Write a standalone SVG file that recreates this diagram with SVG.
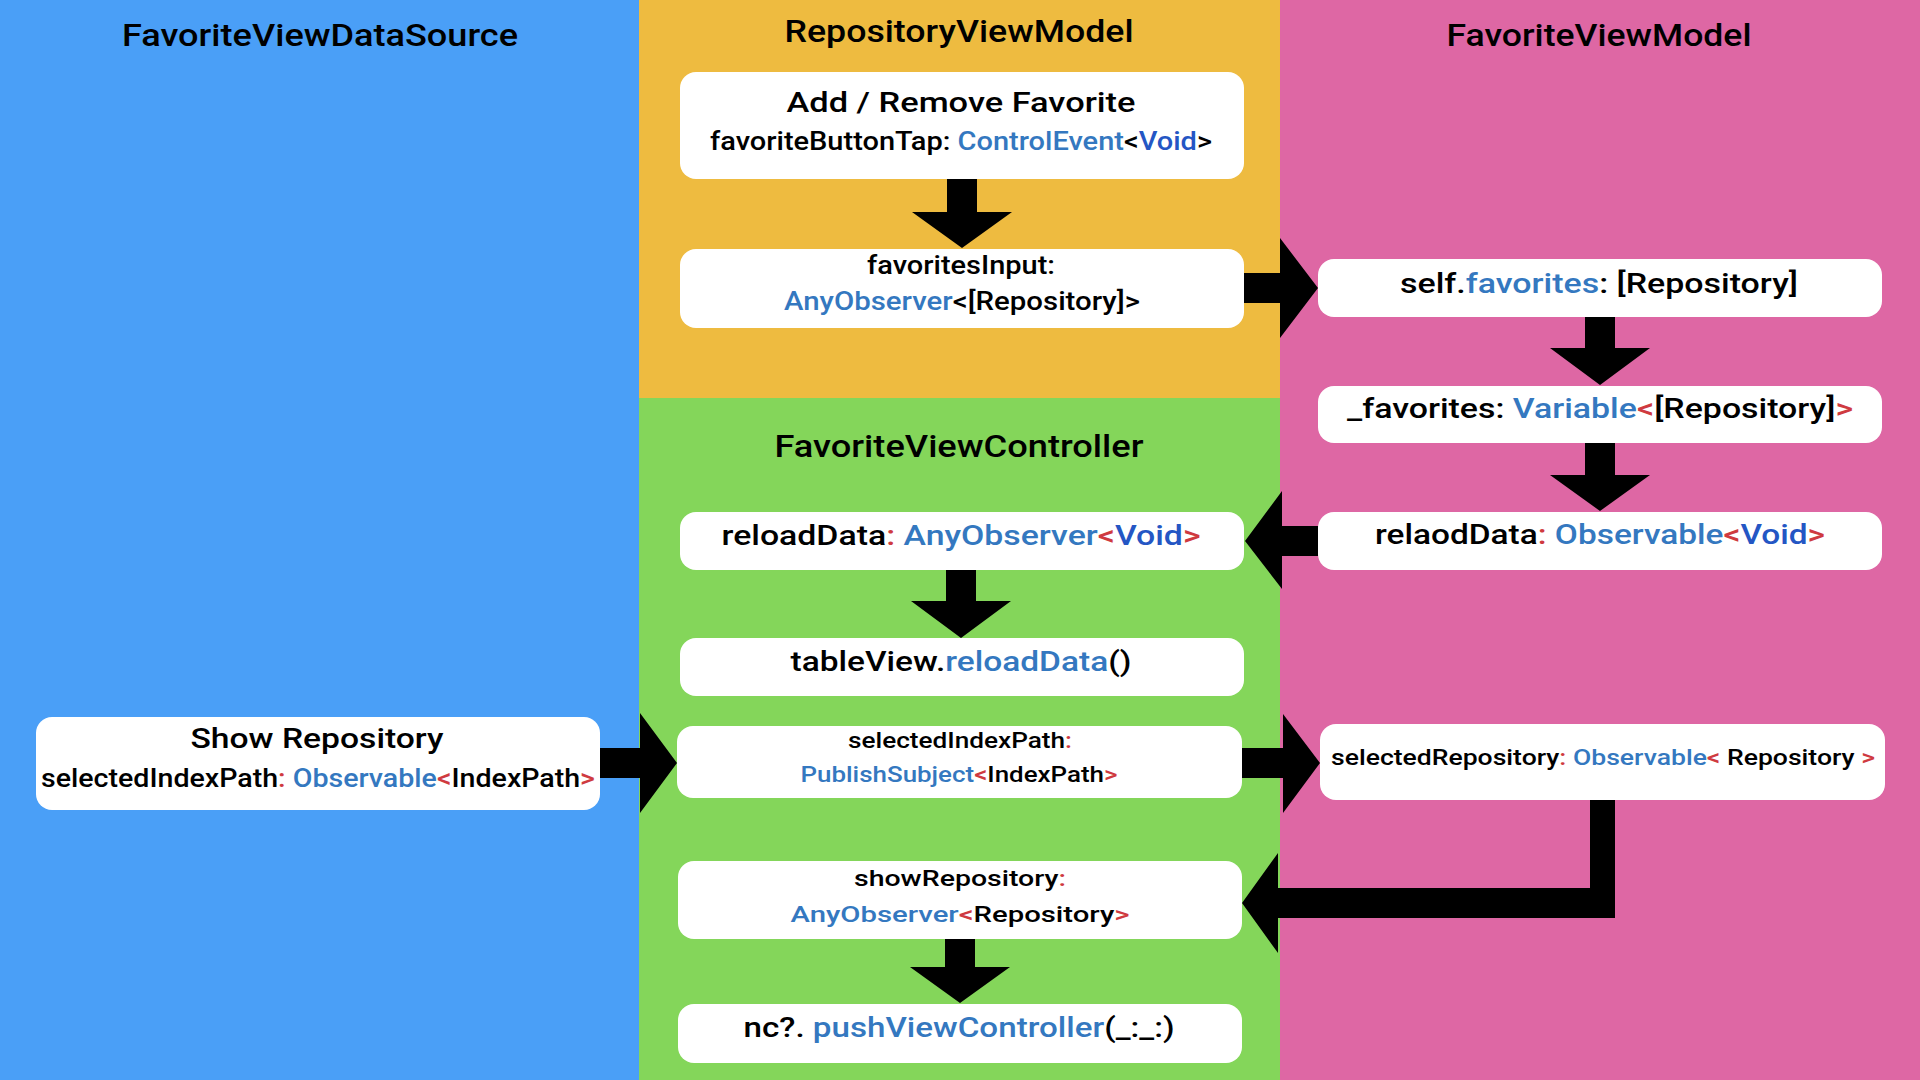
<svg xmlns="http://www.w3.org/2000/svg" width="1920" height="1080" viewBox="0 0 1920 1080">
  <style>
    text { font-family: Roboto, "Noto Sans", "Liberation Sans", sans-serif; font-weight: 500; fill: #000; text-anchor: middle; }
    .title { font-size: 31px; }
    .big { font-size: 28px; }
    .mid { font-size: 25px; }
    .small { font-size: 22px; }
    .box { fill: #fff; }
    .arrow { fill: #000; }
    .t { fill: #3478c0; }
    .v { fill: #2456c4; }
    .r { fill: #cf3a40; }
  </style>

  <!-- swimlane backgrounds -->
  <g id="lanes">
    <rect x="0" y="0" width="639" height="1080" fill="#4a9ff7"/>
    <rect x="639" y="0" width="641" height="398" fill="#eebb40"/>
    <rect x="639" y="398" width="641" height="682" fill="#84d65a"/>
    <rect x="1280" y="0" width="640" height="1080" fill="#de67a4"/>
  </g>

  <!-- lane titles -->
  <g id="lane-titles">
    <text class="title" x="320" y="46" textLength="396" lengthAdjust="spacingAndGlyphs">FavoriteViewDataSource</text>
    <text class="title" x="959" y="42" textLength="349" lengthAdjust="spacingAndGlyphs">RepositoryViewModel</text>
    <text class="title" x="1599" y="46" textLength="305" lengthAdjust="spacingAndGlyphs">FavoriteViewModel</text>
    <text class="title" x="959" y="457" textLength="369" lengthAdjust="spacingAndGlyphs">FavoriteViewController</text>
  </g>

  <!-- connectors -->
  <g id="connectors">
    <!-- favoriteButtonTap -> favoritesInput -->
    <polygon class="arrow" points="947,179 977,179 977,212 1012,212 962,248 912,212 947,212"/>
    <!-- favoritesInput -> self.favorites -->
    <polygon class="arrow" points="1244,273 1280,273 1280,238 1318,288 1280,338 1280,303 1244,303"/>
    <!-- self.favorites -> _favorites -->
    <polygon class="arrow" points="1585,317 1615,317 1615,348 1650,348 1600,385 1550,348 1585,348"/>
    <!-- _favorites -> relaodData -->
    <polygon class="arrow" points="1585,443 1615,443 1615,475 1650,475 1600,511 1550,475 1585,475"/>
    <!-- relaodData -> reloadData -->
    <polygon class="arrow" points="1318,526 1282,526 1282,491 1245,541 1282,589 1282,556 1318,556"/>
    <!-- reloadData -> tableView.reloadData() -->
    <polygon class="arrow" points="946,570 976,570 976,601 1011,601 961,638 911,601 946,601"/>
    <!-- Show Repository -> selectedIndexPath -->
    <polygon class="arrow" points="600,748 640,748 640,713 677,763 640,813 640,778 600,778"/>
    <!-- selectedIndexPath -> selectedRepository -->
    <polygon class="arrow" points="1242,748 1283,748 1283,714 1320,763 1283,813 1283,778 1242,778"/>
    <!-- selectedRepository -> showRepository -->
    <polygon class="arrow" points="1590,800 1615,800 1615,918 1278,918 1278,953 1242,903 1278,853 1278,888 1590,888"/>
    <!-- showRepository -> pushViewController -->
    <polygon class="arrow" points="945,939 975,939 975,967 1010,967 960,1003 910,967 945,967"/>
  </g>

  <!-- RepositoryViewModel -->
  <g id="node-favorite-button">
    <rect class="box" x="680" y="72" width="564" height="107" rx="16"/>
    <text class="big" x="961" y="112" textLength="349" lengthAdjust="spacingAndGlyphs">Add / Remove Favorite</text>
    <text class="mid" x="961" y="150" textLength="502" lengthAdjust="spacingAndGlyphs">favoriteButtonTap: <tspan class="t">ControlEvent</tspan>&lt;<tspan class="v">Void</tspan>&gt;</text>
  </g>
  <g id="node-favorites-input">
    <rect class="box" x="680" y="249" width="564" height="79" rx="16"/>
    <text class="mid" x="961" y="274" textLength="188" lengthAdjust="spacingAndGlyphs">favoritesInput:</text>
    <text class="mid" x="962" y="310" textLength="356" lengthAdjust="spacingAndGlyphs"><tspan class="t">AnyObserver</tspan>&lt;[Repository]&gt;</text>
  </g>

  <!-- FavoriteViewModel -->
  <g id="node-self-favorites">
    <rect class="box" x="1318" y="259" width="564" height="58" rx="16"/>
    <text class="big" x="1599" y="293" textLength="398" lengthAdjust="spacingAndGlyphs">self.<tspan class="t">favorites</tspan>: [Repository]</text>
  </g>
  <g id="node-private-favorites">
    <rect class="box" x="1318" y="386" width="564" height="57" rx="16"/>
    <text class="big" x="1600" y="418" textLength="506" lengthAdjust="spacingAndGlyphs">_favorites: <tspan class="t">Variable</tspan><tspan class="r">&lt;</tspan>[Repository]<tspan class="r">&gt;</tspan></text>
  </g>
  <g id="node-relaod-data">
    <rect class="box" x="1318" y="512" width="564" height="58" rx="16"/>
    <text class="big" x="1600" y="544" textLength="450" lengthAdjust="spacingAndGlyphs">relaodData<tspan class="r">:</tspan> <tspan class="t">Observable</tspan><tspan class="r">&lt;</tspan><tspan class="v">Void</tspan><tspan class="r">&gt;</tspan></text>
  </g>
  <g id="node-selected-repository">
    <rect class="box" x="1320" y="724" width="565" height="76" rx="16"/>
    <text class="small" x="1603" y="765" textLength="544" lengthAdjust="spacingAndGlyphs">selectedRepository<tspan class="r">:</tspan> <tspan class="t">Observable</tspan><tspan class="r">&lt;</tspan> Repository <tspan class="r">&gt;</tspan></text>
  </g>

  <!-- FavoriteViewController -->
  <g id="node-reload-data">
    <rect class="box" x="680" y="512" width="564" height="58" rx="16"/>
    <text class="big" x="961" y="545" textLength="479" lengthAdjust="spacingAndGlyphs">reloadData<tspan class="r">:</tspan> <tspan class="t">AnyObserver</tspan><tspan class="r">&lt;</tspan><tspan class="v">Void</tspan><tspan class="r">&gt;</tspan></text>
  </g>
  <g id="node-table-reload">
    <rect class="box" x="680" y="638" width="564" height="58" rx="16"/>
    <text class="big" x="961" y="671" textLength="341" lengthAdjust="spacingAndGlyphs">tableView.<tspan class="t">reloadData</tspan>()</text>
  </g>
  <g id="node-selected-index-path">
    <rect class="box" x="677" y="726" width="565" height="72" rx="16"/>
    <text class="small" x="960" y="748" textLength="224" lengthAdjust="spacingAndGlyphs">selectedIndexPath<tspan class="r">:</tspan></text>
    <text class="small" x="959" y="782" textLength="317" lengthAdjust="spacingAndGlyphs"><tspan class="t">PublishSubject</tspan><tspan class="r">&lt;</tspan>IndexPath<tspan class="r">&gt;</tspan></text>
  </g>
  <g id="node-show-repository-observer">
    <rect class="box" x="678" y="861" width="564" height="78" rx="16"/>
    <text class="small" x="960" y="886" textLength="212" lengthAdjust="spacingAndGlyphs">showRepository<tspan class="r">:</tspan></text>
    <text class="small" x="960" y="922" textLength="339" lengthAdjust="spacingAndGlyphs"><tspan class="t">AnyObserver</tspan><tspan class="r">&lt;</tspan>Repository<tspan class="r">&gt;</tspan></text>
  </g>
  <g id="node-push-view-controller">
    <rect class="box" x="678" y="1004" width="564" height="59" rx="16"/>
    <text class="big" x="959" y="1037" textLength="431" lengthAdjust="spacingAndGlyphs">nc?. <tspan class="t">pushViewController</tspan>(_:_:)</text>
  </g>

  <!-- FavoriteViewDataSource -->
  <g id="node-show-repository">
    <rect class="box" x="36" y="717" width="564" height="93" rx="16"/>
    <text class="big" x="317" y="748" textLength="253" lengthAdjust="spacingAndGlyphs">Show Repository</text>
    <text class="mid" x="318" y="787" textLength="554" lengthAdjust="spacingAndGlyphs">selectedIndexPath<tspan class="r">:</tspan> <tspan class="t">Observable</tspan><tspan class="r">&lt;</tspan>IndexPath<tspan class="r">&gt;</tspan></text>
  </g>
</svg>
